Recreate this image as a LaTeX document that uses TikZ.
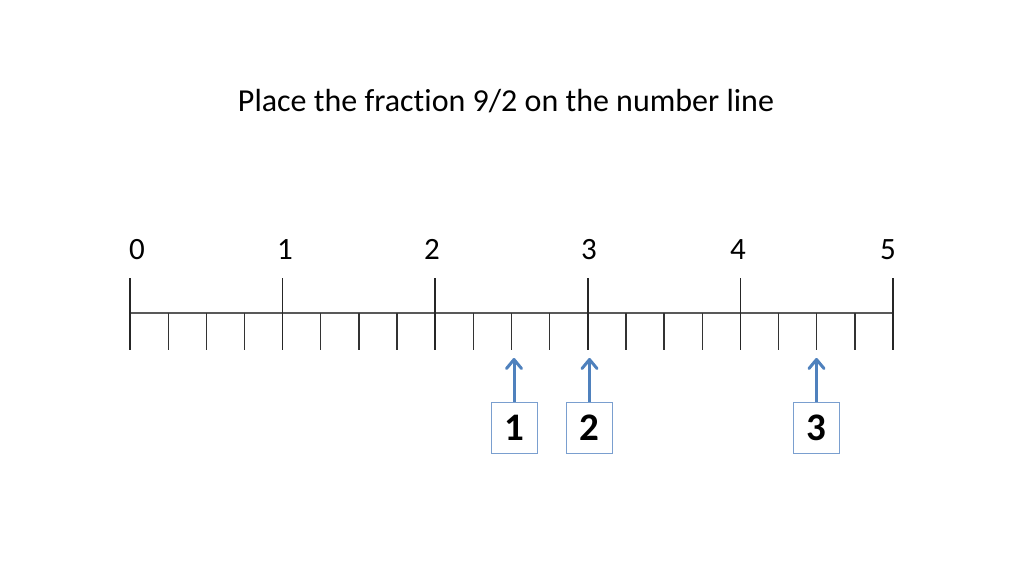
\documentclass[tikz,border=0pt]{standalone}
\usepackage{fontspec}
\setmainfont[Ligatures=NoCommon]{Carlito}
\usetikzlibrary{arrows.meta}
\definecolor{arrowblue}{HTML}{4F81BD}
\definecolor{boxblue}{HTML}{7A9FCF}
\tikzset{
  major/.style={line width=1.5pt, black!85},
  minor/.style={line width=1.3pt, black!80},
  axis/.style={line width=1.5pt, black!65},
  lbl/.style={font=\fontsize{31}{34}\selectfont, anchor=base},
  choice/.style={draw=boxblue, line width=1pt, minimum width=46pt, minimum height=51pt, inner sep=0pt, font=\bfseries\fontsize{39}{42}\selectfont},
  pointer/.style={draw=arrowblue, line width=3pt, -{Straight Barb[length=9pt,width=15pt,line width=3pt,round]}}
}
\begin{document}
\begin{tikzpicture}[x=1pt,y=-1pt]
\useasboundingbox (0,0) rectangle (1024,576);
\node[font=\fontsize{32}{36}\selectfont] (title) at (506,101) {Place the fraction 9/2 on the number line};
% axis
\coordinate (L) at (130,313);
\coordinate (R) at (893,313);
\draw[axis] (L) -- (R);
\foreach \i in {0,...,20}{
  \pgfmathsetmacro{\xx}{130+\i*38.15}
  \coordinate (t\i) at (\xx,350);
  \draw[minor] (\xx,313) -- (t\i);
}
\foreach \i in {0,...,5}{
  \pgfmathsetmacro{\xx}{130+\i*152.6}
  \draw[major] (\xx,278) -- (\xx,350);
}
\foreach \n/\lx in {0/137,1/285,2/432,3/589,4/738,5/888}{
  \node[lbl] (n\n) at (\lx,259) {\n};
}
% choices
\node[choice] (b1) at (514,427.5) {1};
\node[choice] (b2) at (589.5,427.5) {2};
\node[choice] (b3) at (816.5,427.5) {3};
\coordinate (a1) at (514,358);
\coordinate (a2) at (589.5,358);
\coordinate (a3) at (816.5,358);
\draw[pointer] (b1.north) -- (a1);
\draw[pointer] (b2.north) -- (a2);
\draw[pointer] (b3.north) -- (a3);
\end{tikzpicture}
\end{document}
